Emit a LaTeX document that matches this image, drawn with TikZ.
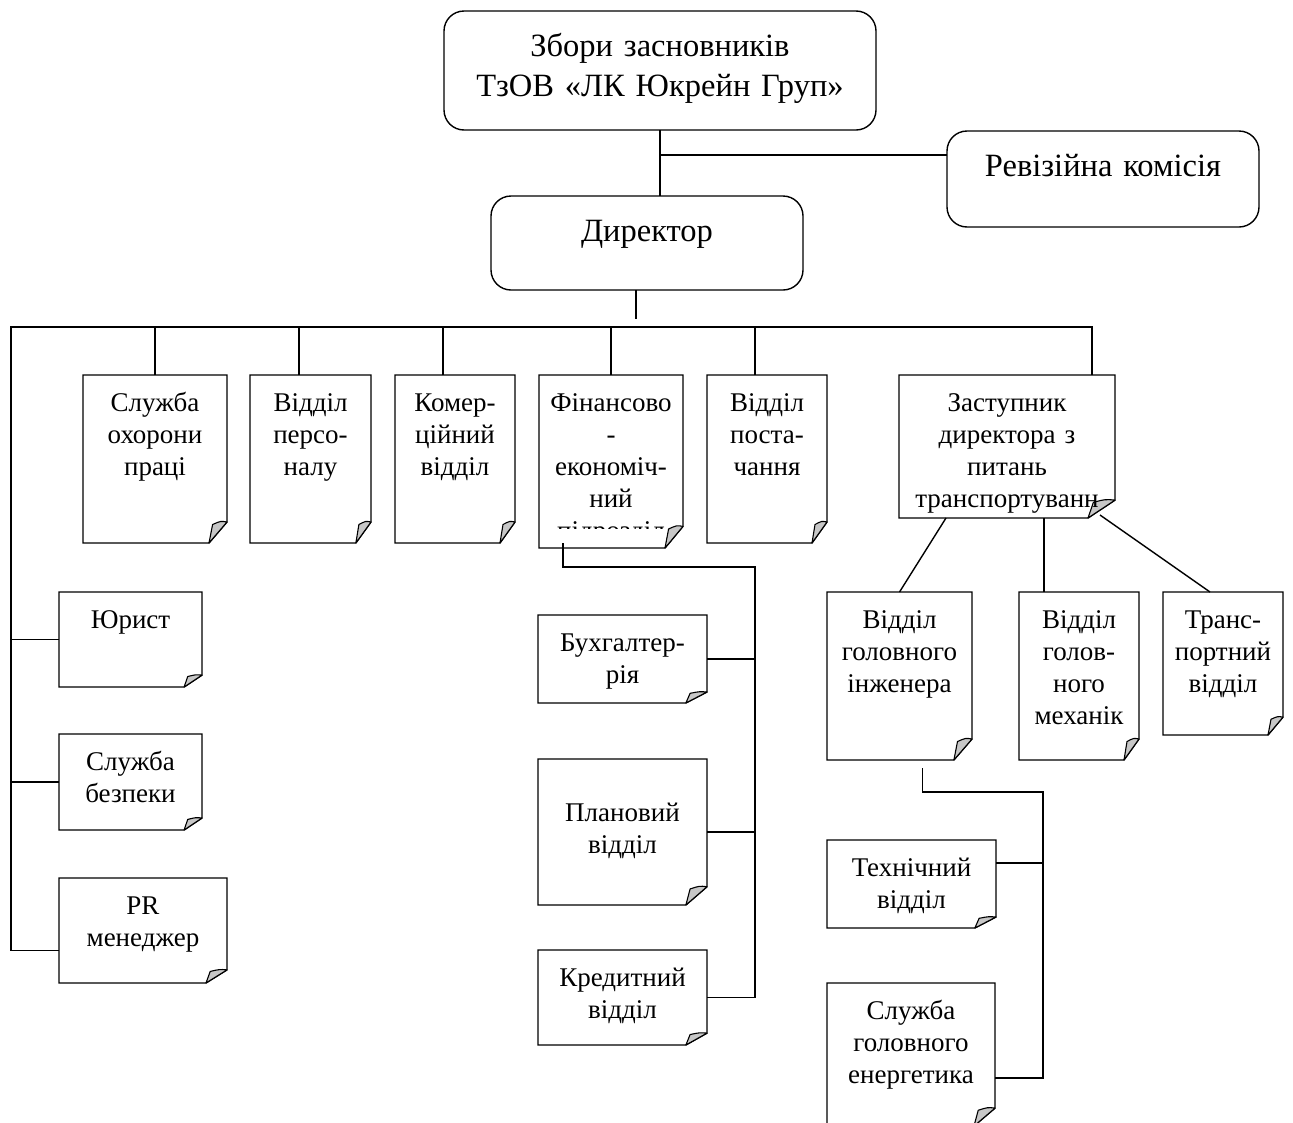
\documentclass[tikz,border=0pt]{standalone}
\usepackage{fontspec}
\setmainfont{Liberation Serif}
\usetikzlibrary{calc, backgrounds}

\begin{document}
\begin{tikzpicture}[x=1pt, y=-1pt, line width=1.4pt,
  head/.style 2 args={draw, rounded corners=20pt, fill=white, minimum width=#1pt, minimum height=#2pt, inner sep=0pt, outer sep=0pt},
  doc/.style 2 args={minimum width=#1pt, minimum height=#2pt, inner sep=0pt, outer sep=0pt},
  head text/.style={font=\fontsize{32.5}{40}\selectfont, text width=500pt, align=center, inner sep=0pt, anchor=north, yshift=-17pt, execute at begin node=\strut},
  doc text/.style={font=\fontsize{27}{32}\selectfont, text width=300pt, align=center, inner sep=0pt, anchor=north, yshift=-13pt, execute at begin node=\strut},
  sheet/.style={draw, fill=white, line width=1.4pt},
  flap/.style={draw, fill=black!22, line width=1.1pt, line join=round}]
  \useasboundingbox (0,0) rectangle (1293,1122);

  % Top of the structure
  \node[head={432}{119}, label={[head text]north:{Збори засновників\\ТзОВ «ЛК Юкрейн Груп»}}] (zbory) at (660,70.5) {};
  \node[head={312}{96}, label={[head text]north:{Ревізійна комісія}}] (revizia) at (1103,179) {};
  \node[head={312}{94}, label={[head text]north:{Директор}}] (dyrektor) at (647,243) {};

  % Departments under the director
  \node[doc={144}{168}, label={[doc text]north:{Служба\\охорони\\праці}}] (ohorona) at (155,459) {};
  \node[doc={121}{168}, label={[doc text]north:{Відділ\\персо-\\налу}}] (personal) at (310.5,459) {};
  \node[doc={120}{168}, label={[doc text]north:{Комер-\\ційний\\відділ}}] (komerc) at (455,459) {};
  \node[doc={144}{173}] (finans) at (611,461.5) {};
  \node[doc={120}{168}, label={[doc text]north:{Відділ\\поста-\\чання}}] (postach) at (767,459) {};
  \node[doc={216}{143}, label={[doc text]north:{Заступник\\директора з\\питань\\транспортуванн}}] (zastup) at (1007,446.5) {};

  \node[doc={143}{95}, label={[doc text]north:{Юрист}}] (yurist) at (130.5,639.5) {};
  \node[doc={143}{96}, label={[doc text]north:{Служба\\безпеки}}] (bezpeka) at (130.5,782) {};
  \node[doc={168}{105}, label={[doc text]north:{PR\\менеджер}}] (pr) at (143,930.5) {};

  \node[doc={169}{88}, label={[doc text]north:{Бухгалтер-\\рія}}] (buh) at (622.5,659) {};
  \node[doc={169}{146}, label={[doc text, yshift=-26pt]north:{Плановий\\відділ}}] (plan) at (622.5,832) {};
  \node[doc={169}{95}, label={[doc text]north:{Кредитний\\відділ}}] (kredyt) at (622.5,997.5) {};

  \node[doc={145}{168}, label={[doc text]north:{Відділ\\головного\\інженера}}] (inzhener) at (899.5,676) {};
  \node[doc={120}{168}, label={[doc text]north:{Відділ\\голов-\\ного\\механік}}] (mekhanik) at (1079,676) {};
  \node[doc={120}{143}, label={[doc text]north:{Транс-\\портний\\відділ}}] (transport) at (1223,663.5) {};
  \node[doc={169}{88}, label={[doc text]north:{Технічний\\відділ}}] (tekhn) at (911.5,884) {};
  \node[doc={168}{143}, label={[doc text]north:{Служба\\головного\\енергетика}}] (energ) at (911,1054.5) {};

  % the finance box text runs past its bottom and is cut off
  \begin{scope}
    \clip (finans.north west) rectangle ([yshift=20]finans.south east);
    \node[doc text] (finans text) at (finans.north) {Фінансово\\-\\економіч-\\ний\\підрозділ};
  \end{scope}

  \coordinate (leftbus) at (11,327);
  \coordinate (rightbus) at (1092,327);
  \coordinate (dirfoot) at (636,319);
  \coordinate (finbus) at (755,567);
  \coordinate (inzhbus) at (1043,792);

  \draw (zbory.south) -- (zbory.south |- dyrektor.north);
  \draw ([yshift=24]revizia.west) -- ([yshift=24]revizia.west -| zbory.south);
  \draw ([xshift=-11]dyrektor.south) -- (dirfoot);
  \draw ([yshift=-20]pr.west) -| (leftbus) -- (rightbus) -- (rightbus |- zastup.north);
  \draw (yurist.west) -- (yurist.west -| leftbus);
  \draw (bezpeka.west) -- (bezpeka.west -| leftbus);
  \foreach \b/\s in {ohorona/0, personal/-11.5, komerc/-12, finans/0, postach/-12}
    \draw ([xshift=\s]\b.north) -- ([xshift=\s]\b.north |- leftbus);

  \draw ([xshift=-48, yshift=5]finans.south) |- (finbus) -- (finbus |- kredyt.east) -- (kredyt.east);
  \foreach \b in {buh, plan}
    \draw (\b.east) -- (\b.east -| finbus);

  \draw ([xshift=-61]zastup.south) -- (inzhener.north);
  \draw ([xshift=-35]mekhanik.north) -- ([xshift=-35]mekhanik.north |- zastup.south);
  \draw ([xshift=93, yshift=3]zastup.south) -- ([xshift=-13]transport.north);

  \draw ([xshift=23, yshift=-8]inzhener.south) |- (inzhbus) -- ([yshift=-23.5]energ.east -| inzhbus) -- ([yshift=-23.5]energ.east);
  \draw ([yshift=21]tekhn.east) -- ([yshift=21]tekhn.east -| inzhbus);

  % sheets with a turned-down corner, fold is 1/8 of the sheet
  \begin{scope}[on background layer]
    \foreach \b in {ohorona, personal, komerc, finans, postach, zastup, yurist, bezpeka, pr, buh, plan, kredyt, inzhener, mekhanik, transport, tekhn, energ} {
      \draw[sheet] let \p1=(\b.north east), \p2=(\b.south west), \n1={(\x1-\x2)/8}, \n2={(\y1-\y2)/8} in
        (\x2,\y1) -- (\p1) -- (\x1,\y2+\n2) -- (\x1-\n1,\y2) -- (\p2) -- cycle;
      \draw[flap] let \p1=(\b.north east), \p2=(\b.south west), \n1={(\x1-\x2)/8}, \n2={(\y1-\y2)/8} in
        (\x1,\y2+\n2) .. controls (\x1-0.35*\n1,\y2+1.05*\n2) .. (\x1-0.8*\n1,\y2+0.88*\n2) -- (\x1-\n1,\y2) -- cycle;
    }
  \end{scope}
\end{tikzpicture}
\end{document}
